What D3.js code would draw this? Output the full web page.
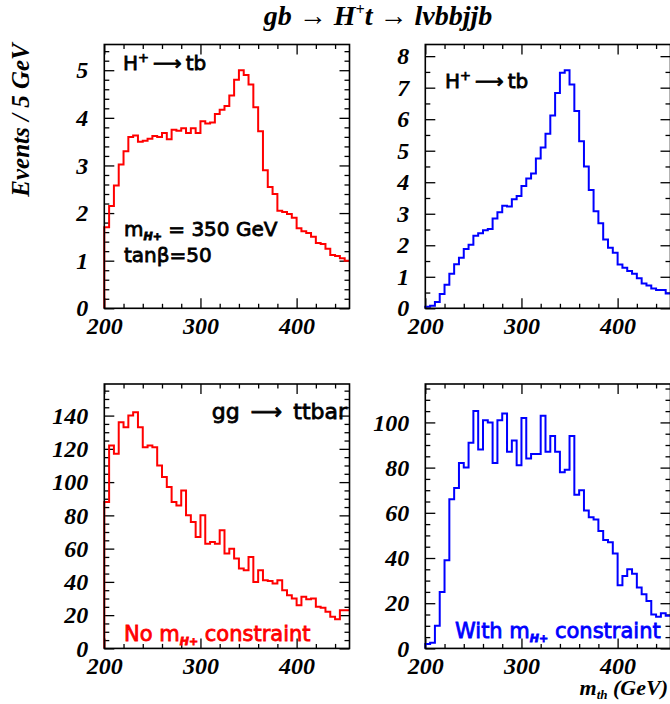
<!DOCTYPE html>
<html>
<head>
<meta charset="utf-8">
<script src="https://cdn.jsdelivr.net/npm/d3@7"></script>
<style>
body { margin: 0; background: #fff; }
svg { display: block; }
.tick text { font-family: 'Liberation Serif', 'Times New Roman', serif; font-weight: bold; font-style: italic; font-size: 24px; fill: #000; }
.tick line { stroke: #000; stroke-width: 1.3; }
.serif { font-family: 'Liberation Serif', 'Times New Roman', serif; font-weight: bold; font-style: italic; fill: #000; }
.note { font-family: 'DejaVu Sans', sans-serif; font-size: 20px; stroke-width: 0.8px; }
</style>
</head>
<body>
<svg id="chart" width="670" height="704"></svg>
<script>
// m_tb histograms, 5 GeV bins starting at 200 GeV
var binStart = 200, binWidth = 5, xEnd = 455;

var signalNoConstraint = [1.7, 2.15, 2.58, 3.02, 3.3, 3.6, 3.63, 3.5, 3.52, 3.56,
    3.62, 3.6, 3.68, 3.55, 3.75, 3.73, 3.78, 3.68, 3.78, 3.68,
    3.93, 3.88, 3.9, 4.08, 4.17, 4.25, 4.47, 4.8, 5.0, 4.9,
    4.7, 4.22, 3.72, 2.9, 2.55, 2.4, 2.05, 2.02, 1.98, 1.9,
    1.68, 1.62, 1.58, 1.5, 1.37, 1.35, 1.25, 1.12, 1.1, 1.05, 1.0];

var signalWithConstraint = [0.05, 0.08, 0.2, 0.45, 0.75, 1.1, 1.4, 1.6, 1.88, 2.02,
    2.3, 2.38, 2.48, 2.52, 2.85, 3.05, 3.25, 3.23, 3.46, 3.56,
    3.88, 4.12, 4.28, 4.75, 5.1, 5.54, 6.12, 6.83, 7.47, 7.55,
    7.1, 6.26, 5.3, 4.5, 3.75, 3.08, 2.7, 2.18, 1.92, 1.76,
    1.39, 1.29, 1.18, 1.1, 0.95, 0.79, 0.72, 0.63, 0.58, 0.58, 0.47];

var ttbarNoConstraint = [88, 122, 117, 136, 133, 140, 142, 133, 121, 122,
    121, 110, 103, 97, 88, 86, 95, 80, 76, 67,
    80, 63, 64, 63, 71, 57, 60, 54, 48, 47,
    55, 40, 47, 41, 40.5, 39, 41, 35, 32, 30,
    26, 31, 29.5, 30, 25, 24.5, 22, 19, 17.5, 23, 23];

var ttbarWithConstraint = [2, 2.5, 10, 25, 39, 66, 71, 82, 80, 91,
    105, 88, 101, 100, 82, 101, 104, 87, 92, 81,
    102, 84, 86, 86, 103, 87, 94, 87, 78, 79,
    94, 68, 70, 61, 58, 57, 52, 48, 47, 42,
    28, 32, 35, 33, 27, 24, 21, 15, 14, 15.5, 14.5];

// tick values
var xMajor = [200, 300, 400];
var xMinor = [220, 240, 260, 280, 320, 340, 360, 380, 420, 440];
var yMajorSignalNo = [0, 1, 2, 3, 4, 5];
var yMajorSignalWith = [0, 1, 2, 3, 4, 5, 6, 7, 8];
var yMajorTtbarNo = [0, 20, 40, 60, 80, 100, 120, 140];
var yMajorTtbarWith = [0, 20, 40, 60, 80, 100];

var panels = [
    {data: signalNoConstraint, color: '#ff0000', ymax: 5.54, yMajor: yMajorSignalNo, minorStep: 0.2,
     left: 104.3, top: 44.5, bottom: 308.3},
    {data: signalWithConstraint, color: '#0000ff', ymax: 8.37, yMajor: yMajorSignalWith, minorStep: 0.5,
     left: 425.3, top: 44.5, bottom: 308.3},
    {data: ttbarNoConstraint, color: '#ff0000', ymax: 159, yMajor: yMajorTtbarNo, minorStep: 5,
     left: 104.3, top: 384, bottom: 648.4},
    {data: ttbarWithConstraint, color: '#0000ff', ymax: 117, yMajor: yMajorTtbarWith, minorStep: 5,
     left: 425.3, top: 384, bottom: 648.4}
];
var panelWidth = 245.2;

var svg = d3.select('#chart');

panels.forEach(function(p) { drawPanel(svg, p); });
drawLabels(svg);

function drawPanel(svg, p) {
    var width = panelWidth,
        height = p.bottom - p.top;

    var g = svg.append('g')
        .attr('transform', 'translate(' + p.left + ',' + p.top + ')');

    var x = d3.scaleLinear().domain([binStart, xEnd]).range([0, width]),
        y = d3.scaleLinear().domain([0, p.ymax]).range([height, 0]);

    // minor y ticks every minorStep, skipping the majors
    var yMinor = [];
    for (var v = 0; v < p.ymax; v += p.minorStep) {
        var r = Math.round(v * 1000) / 1000;
        if (p.yMajor.indexOf(r) < 0) yMinor.push(r);
    }

    // ticks point inwards on all four sides, labels only left and bottom
    axisCall(g, d3.axisLeft(y).tickValues(p.yMajor).tickSize(-10).tickPadding(16).tickFormat(d3.format('d')), null);
    axisCall(g, d3.axisLeft(y).tickValues(yMinor).tickSize(-5).tickFormat(''), null);
    axisCall(g, d3.axisRight(y).tickValues(p.yMajor).tickSize(-10).tickFormat(''), [width, 0]);
    axisCall(g, d3.axisRight(y).tickValues(yMinor).tickSize(-5).tickFormat(''), [width, 0]);
    axisCall(g, d3.axisBottom(x).tickValues(xMajor).tickSize(-10).tickPadding(9).tickFormat(d3.format('d')), [0, height]);
    axisCall(g, d3.axisBottom(x).tickValues(xMinor).tickSize(-4.5).tickFormat(''), [0, height]);
    axisCall(g, d3.axisTop(x).tickValues(xMajor).tickSize(-10).tickFormat(''), null);
    axisCall(g, d3.axisTop(x).tickValues(xMinor).tickSize(-4.5).tickFormat(''), null);

    // histogram outline as steps
    var points = [[binStart, 0]];
    p.data.forEach(function(d, i) { points.push([binStart + i * binWidth, d]); });
    points.push([binStart + p.data.length * binWidth, p.data[p.data.length - 1]]);

    var line = d3.line()
        .x(function(d) { return x(d[0]); })
        .y(function(d) { return y(d[1]); })
        .curve(d3.curveStepAfter);

    g.append('path')
        .datum(points)
        .attr('d', line)
        .attr('fill', 'none')
        .attr('stroke', p.color)
        .attr('stroke-width', 2);

    g.append('rect')
        .attr('width', width)
        .attr('height', height)
        .attr('fill', 'none')
        .attr('stroke', '#000')
        .attr('stroke-width', 1.6);
}

function axisCall(g, axis, shift) {
    var a = g.append('g').call(axis.tickSizeOuter(0));
    if (shift) a.attr('transform', 'translate(' + shift[0] + ',' + shift[1] + ')');
    a.select('.domain').remove();
    a.attr('font-family', null).attr('font-size', null);
}

// text with sub/superscript pieces
function richText(svg, x, y, parts, cls, color, anchor) {
    var t = svg.append('text')
        .attr('class', cls)
        .attr('x', x)
        .attr('y', y)
        .attr('text-anchor', anchor || 'start')
        .style('fill', color || '#000');
    if (cls === 'note') t.style('stroke', color || '#000');
    parts.forEach(function(part) {
        var s = t.append('tspan').text(part.text);
        if (part.dy) s.attr('dy', part.dy);
        if (part.size) s.style('font-size', part.size);
        if (part.italic) s.style('font-style', 'italic').style('font-weight', 'bold');
    });
    return t;
}

function drawLabels(svg) {
    richText(svg, 378, 25, [
        {text: 'gb \u2192 H'}, {text: '+', dy: -10, size: '16px'}, {text: 't \u2192 l\u03bdbbjjb', dy: 10}
    ], 'serif', '#000', 'middle').style('font-size', '28px');

    svg.append('text')
        .attr('class', 'serif')
        .attr('transform', 'translate(29,120) rotate(-90)')
        .attr('text-anchor', 'middle')
        .style('font-size', '25px')
        .text('Events / 5 GeV');

    richText(svg, 668, 695, [
        {text: 'm'}, {text: 'th', dy: 4, size: '13px'}, {text: ' (GeV)', dy: -4}
    ], 'serif', '#000', 'end').style('font-size', '22px');

    richText(svg, 123, 70, [
        {text: 'H'}, {text: '+', dy: -8, size: '13px'}, {text: '\u2009\u27f6\u2009', dy: 8}, {text: 'tb'}
    ], 'note');
    richText(svg, 445, 88, [
        {text: 'H'}, {text: '+', dy: -8, size: '13px'}, {text: '\u2009\u27f6\u2009', dy: 8}, {text: 'tb'}
    ], 'note');

    richText(svg, 124, 236, [
        {text: 'm'}, {text: 'H+', dy: 4, size: '11px', italic: true}, {text: ' = 350 GeV', dy: -4}
    ], 'note');
    richText(svg, 124, 262, [{text: 'tan\u03b2=50'}], 'note');

    richText(svg, 347, 419, [{text: 'gg\u2002\u27f6\u2002ttbar'}], 'note', '#000', 'end')
        .style('font-size', '22px');

    richText(svg, 124, 641, [
        {text: 'No m'}, {text: 'H+', dy: 4, size: '11px', italic: true}, {text: ' constraint', dy: -4}
    ], 'note', '#ff0000').style('font-size', '21px');
    richText(svg, 455, 638, [
        {text: 'With m'}, {text: 'H+', dy: 4, size: '11px', italic: true}, {text: ' constraint', dy: -4}
    ], 'note', '#0000ff').style('font-size', '21px');
}
</script>
</body>
</html>
